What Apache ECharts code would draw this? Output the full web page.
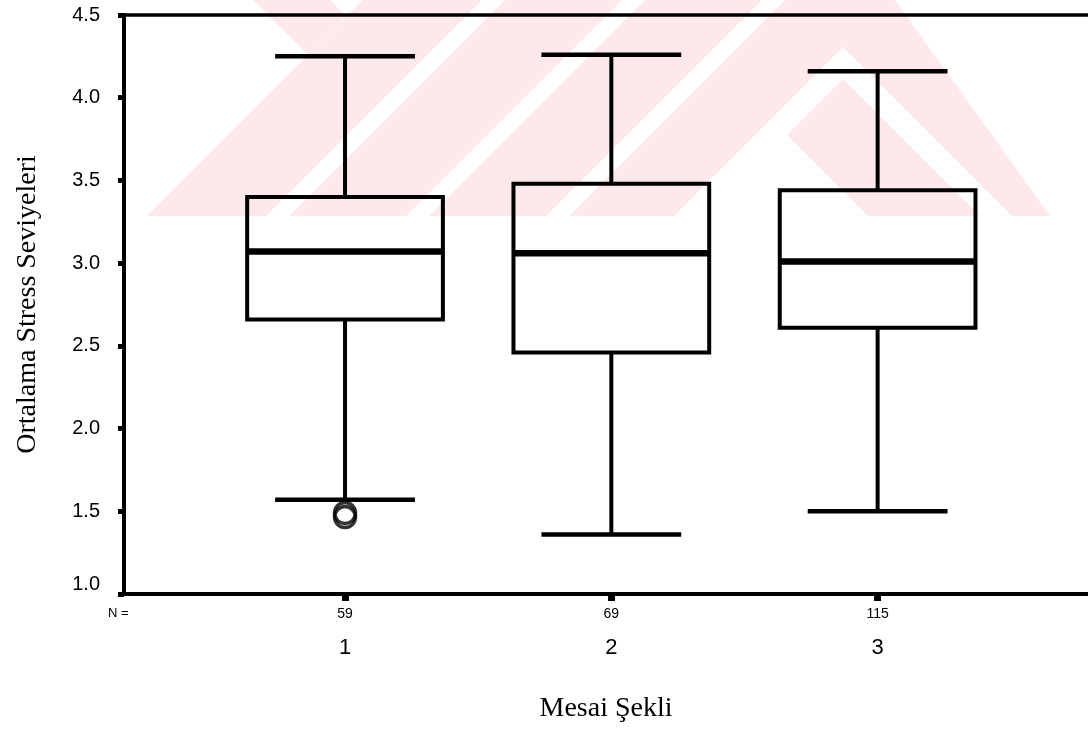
<!DOCTYPE html>
<html>
<head>
<meta charset="utf-8">
<script src="https://cdn.jsdelivr.net/npm/echarts@6/dist/echarts.min.js"></script>
<style>
  html, body { margin: 0; padding: 0; background: #ffffff; }
  #chart { width: 1088px; height: 734px; }
</style>
</head>
<body>
<div id="chart"></div>
<script>
// Groups of working schedule and their sample sizes
const groups = ['1', '2', '3'];
const groupN = [59, 69, 115];

// Box plot summaries per group
const lowerWhisker = [1.57, 1.36, 1.50];
const q1 = [2.66, 2.46, 2.61];
const median = [3.07, 3.06, 3.01];
const q3 = [3.40, 3.48, 3.44];
const upperWhisker = [4.25, 4.26, 4.16];

// Outlying cases: [group position, value]
const outliers = [[1, 1.49], [1, 1.465]];

// Value axis range and step
const yMin = 1.0, yMax = 4.5, yStep = 0.5;

// Faint background emblem (pixel polygons)
const emblemPink = [
  [[253, 0], [330, 0], [346, 16], [308, 55]],
  [[363, 0], [482, 0], [266, 216], [147, 216]],
  [[505, 0], [622, 0], [406, 216], [289, 216]],
  [[645, 0], [762, 0], [546, 216], [429, 216]],
  [[785, 0], [895, 0], [1050, 216], [569, 216]]
];
const emblemWhite = [
  [[843, 47], [1012, 216], [980, 216], [843, 79], [706, 216], [674, 216]],
  [[772, 120], [868, 216], [676, 216]]
];

const boxData = groups.map((g, i) => [i + 1, lowerWhisker[i], q1[i], median[i], q3[i], upperWhisker[i]]);

function renderBox(params, api) {
  const x = api.value(0);
  const lo = api.coord([x, api.value(1)]);
  const b1 = api.coord([x, api.value(2)]);
  const md = api.coord([x, api.value(3)]);
  const b3 = api.coord([x, api.value(4)]);
  const hi = api.coord([x, api.value(5)]);
  const unit = api.size([1, 0])[0];
  const halfBox = unit * 0.735 / 2;
  const halfCap = unit * 0.525 / 2;
  const cx = lo[0];
  const line = { stroke: '#000', lineWidth: 4, fill: null };
  const cap = { stroke: '#000', lineWidth: 4.5, fill: null };
  return {
    type: 'group',
    children: [
      { type: 'line', shape: { x1: cx, y1: hi[1], x2: cx, y2: b3[1] }, style: line },
      { type: 'line', shape: { x1: cx, y1: b1[1], x2: cx, y2: lo[1] }, style: line },
      { type: 'line', shape: { x1: cx - halfCap, y1: hi[1], x2: cx + halfCap, y2: hi[1] }, style: cap },
      { type: 'line', shape: { x1: cx - halfCap, y1: lo[1], x2: cx + halfCap, y2: lo[1] }, style: cap },
      { type: 'rect', shape: { x: cx - halfBox, y: b3[1], width: halfBox * 2, height: b1[1] - b3[1] },
        style: { fill: null, stroke: '#000', lineWidth: 4 } },
      { type: 'line', shape: { x1: cx - halfBox, y1: md[1], x2: cx + halfBox, y2: md[1] },
        style: { stroke: '#000', lineWidth: 6.5 } }
    ]
  };
}

const graphics = [];
emblemPink.forEach(p => graphics.push({
  type: 'polygon', z: -100, silent: true, shape: { points: p }, style: { fill: '#fde9ec' }
}));
emblemWhite.forEach(p => graphics.push({
  type: 'polygon', z: -99, silent: true, shape: { points: p }, style: { fill: '#ffffff' }
}));
graphics.push({
  type: 'text', left: 108, top: 607, z: 10,
  style: { text: 'N =', font: '13px "Liberation Sans", Arial, sans-serif', fill: '#000' }
});

const sans = '"Liberation Sans", Arial, sans-serif';
const serif = '"Liberation Serif", "Times New Roman", serif';

const chart = echarts.init(document.getElementById('chart'), null, { renderer: 'canvas' });
chart.setOption({
  animation: false,
  backgroundColor: '#ffffff',
  graphic: graphics,
  grid: { left: 124, top: 15, right: 0, bottom: 140, containLabel: false },
  xAxis: [
    {
      type: 'value', min: 0.17, max: 3.79, position: 'bottom',
      name: 'Mesai Şekli', nameLocation: 'middle', nameGap: 101,
      nameTextStyle: { fontFamily: serif, fontSize: 28, color: '#000' },
      axisLine: { show: true, onZero: false, lineStyle: { color: '#000', width: 4 } },
      axisTick: { show: true, inside: false, length: 7, customValues: [1, 2, 3], lineStyle: { color: '#000', width: 7 } },
      axisLabel: {
        show: true, margin: 12, customValues: [1, 2, 3],
        formatter: v => `{n|${groupN[Math.round(v) - 1]}}\n{c|${groups[Math.round(v) - 1]}}`,
        rich: {
          n: { fontFamily: sans, fontSize: 14, lineHeight: 16, color: '#000' },
          c: { fontFamily: sans, fontSize: 22, lineHeight: 52, color: '#000' }
        }
      },
      splitLine: { show: false }
    },
    {
      type: 'value', min: 0.17, max: 3.79, position: 'top',
      axisLine: { show: true, onZero: false, lineStyle: { color: '#000', width: 3.5 } },
      axisTick: { show: false }, axisLabel: { show: false }, splitLine: { show: false }
    }
  ],
  yAxis: {
    type: 'value', min: yMin, max: yMax, interval: yStep,
    name: 'Ortalama Stress Seviyeleri', nameLocation: 'middle', nameGap: 82,
    nameTextStyle: { fontFamily: serif, fontSize: 28, color: '#000' },
    axisLine: { show: true, lineStyle: { color: '#000', width: 4 } },
    axisTick: { show: true, length: 6, lineStyle: { color: '#000', width: 5 } },
    axisLabel: {
      margin: 24, color: '#000', fontSize: 20, fontFamily: sans,
      // the bottom label sits a little higher, clear of the N row
      formatter: v => (v === yMin ? `{low|${v.toFixed(1)}}` : v.toFixed(1)),
      rich: {
        low: { fontFamily: sans, fontSize: 20, color: '#000', padding: [0, 0, 20, 0] }
      }
    },
    splitLine: { show: false }
  },
  series: [
    {
      type: 'custom', name: 'box', xAxisIndex: 0,
      data: boxData,
      encode: { x: 0, y: [1, 2, 3, 4, 5] },
      renderItem: renderBox,
      z: 5
    },
    {
      type: 'scatter', name: 'outlier', xAxisIndex: 0,
      data: outliers,
      symbol: 'circle', symbolSize: 21,
      itemStyle: { color: 'rgba(0,0,0,0)', borderColor: '#000', borderWidth: 3.5 },
      z: 6
    }
  ]
});
</script>
</body>
</html>
